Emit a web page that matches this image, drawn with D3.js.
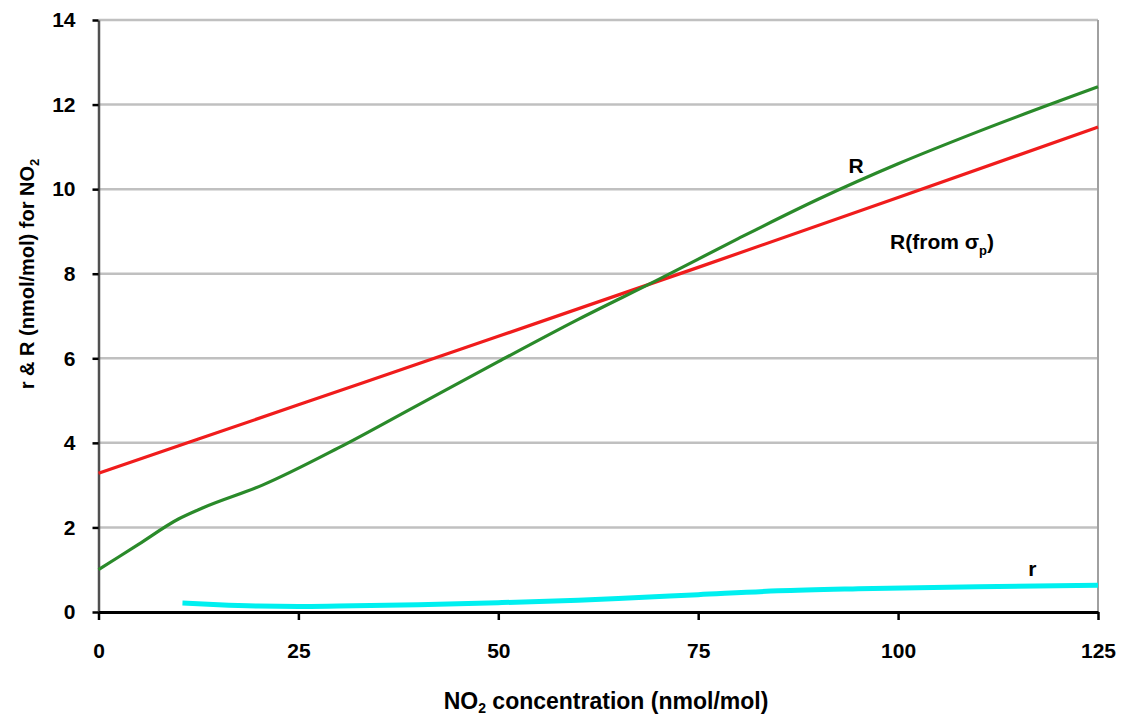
<!DOCTYPE html>
<html>
<head>
<meta charset="utf-8">
<script src="https://cdn.jsdelivr.net/npm/d3@7"></script>
<style>
  body { margin: 0; background: #fff; }
  svg text { font-family: "Liberation Sans", Arial, sans-serif; font-weight: bold; fill: #000; }
</style>
</head>
<body>
<svg id="chart" width="1124" height="719"></svg>
<script>
// NO2 concentration (nmol/mol) vs r & R values
const xTicks = [0, 25, 50, 75, 100, 125];
const yTicks = [0, 2, 4, 6, 8, 10, 12, 14];

const bigR = [
  [0, 1.0], [5, 1.6], [10, 2.2], [13, 2.46], [20.5, 3.0], [30, 3.88],
  [40, 4.9], [50, 5.92], [60, 6.92], [70, 7.86], [80, 8.83], [90, 9.76],
  [100, 10.6], [110, 11.36], [125, 12.42]
];
const bigRSigma = [
  [0, 3.28], [25, 4.9], [50, 6.52], [75, 8.15], [100, 9.8], [125, 11.47]
];
const smallR = [
  [10.5, 0.21], [15, 0.17], [20, 0.14], [25, 0.13], [30, 0.14], [40, 0.17],
  [50, 0.22], [60, 0.28], [65, 0.32], [75, 0.41], [85, 0.5], [95, 0.55],
  [110, 0.6], [125, 0.63]
];

const svg = d3.select('#chart');
const plotL = 98.5, plotR = 1098, plotT = 20, plotB = 612;
const FONT = '"Liberation Sans", Arial, sans-serif';

const x = d3.scaleLinear().domain([0, 125]).range([plotL, plotR]);
const y = d3.scaleLinear().domain([0, 14]).range([plotB, plotT]);

// gridlines
svg.append('g')
  .selectAll('line')
  .data(yTicks.filter(v => v > 0))
  .join('line')
  .attr('x1', plotL).attr('x2', plotR)
  .attr('y1', d => y(d)).attr('y2', d => y(d))
  .attr('stroke', '#c0c0c0')
  .attr('stroke-width', 2.5);

// right border
svg.append('line')
  .attr('x1', plotR).attr('x2', plotR).attr('y1', plotT).attr('y2', plotB)
  .attr('stroke', '#a0a0a0').attr('stroke-width', 2);

// y axis
const yAxis = svg.append('g')
  .attr('transform', `translate(${plotL},0)`)
  .call(d3.axisLeft(y).tickValues(yTicks).tickSize(6).tickPadding(17).tickSizeOuter(0).tickFormat(d3.format('d')));
yAxis.select('.domain').attr('stroke', '#505050').attr('stroke-width', 2.5);
yAxis.selectAll('.tick line').attr('stroke', '#000').attr('stroke-width', 2.5);
yAxis.selectAll('text').attr('font-size', 21).style('font-family', FONT).style('font-weight', 'bold');

// x axis
const xAxis = svg.append('g')
  .attr('transform', `translate(0,${plotB})`)
  .call(d3.axisBottom(x).tickValues(xTicks).tickSize(8).tickPadding(23).tickSizeOuter(0));
xAxis.select('.domain').attr('stroke', '#000').attr('stroke-width', 3);
xAxis.selectAll('.tick line').attr('stroke', '#000').attr('stroke-width', 2.5);
xAxis.selectAll('text').attr('font-size', 21).style('font-family', FONT).style('font-weight', 'bold');

// series
const line = d3.line().x(d => x(d[0])).y(d => y(d[1])).curve(d3.curveMonotoneX);
svg.append('path').datum(smallR).attr('d', line)
  .attr('fill', 'none').attr('stroke', '#00f0f0').attr('stroke-width', 5);
svg.append('path').datum(bigRSigma).attr('d', line)
  .attr('fill', 'none').attr('stroke', '#f01c1c').attr('stroke-width', 3.2);
svg.append('path').datum(bigR).attr('d', line)
  .attr('fill', 'none').attr('stroke', '#2a8a2a').attr('stroke-width', 3.2);

// series labels
svg.append('text').attr('x', x(94.75)).attr('y', y(10.38)).attr('text-anchor', 'middle')
  .attr('font-size', 21).text('R');
const rs = svg.append('text').attr('x', x(105.5)).attr('y', y(8.58)).attr('text-anchor', 'middle')
  .attr('font-size', 21);
rs.append('tspan').text('R(from ');
rs.append('tspan').text('σ');
rs.append('tspan').attr('font-size', 13).attr('dy', 6).text('p');
rs.append('tspan').attr('dy', -6).text(')');
svg.append('text').attr('x', x(116.8)).attr('y', y(0.85)).attr('text-anchor', 'middle')
  .attr('font-size', 21).text('r');

// axis titles
const xt = svg.append('text').attr('x', 606).attr('y', 709).attr('text-anchor', 'middle')
  .attr('font-size', 23);
xt.append('tspan').text('NO');
xt.append('tspan').attr('font-size', 14).attr('dy', 4).text('2');
xt.append('tspan').attr('dy', -4).text(' concentration (nmol/mol)');

const yt = svg.append('text').attr('transform', 'translate(34,274) rotate(-90)')
  .attr('text-anchor', 'middle').attr('font-size', 20);
yt.append('tspan').text('r & R (nmol/mol) for NO');
yt.append('tspan').attr('font-size', 13).attr('dy', 5).text('2');
</script>
</body>
</html>
